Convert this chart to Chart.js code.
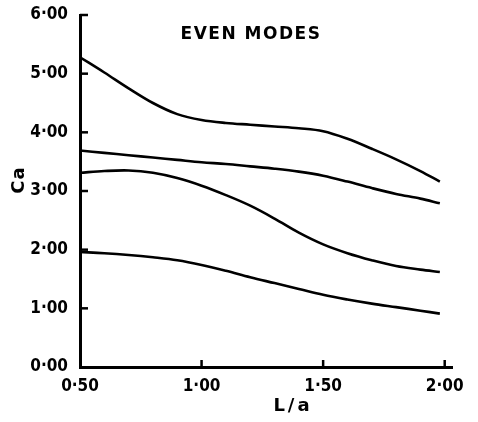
<!DOCTYPE html>
<html lang="en">
<head>
  <meta charset="UTF-8" />
  <title>Even Modes</title>
  <script src="https://cdn.jsdelivr.net/npm/chart.js"></script>
  <style>
    body { margin: 0; background: #fff; }
    #wrap { width: 478px; height: 422px; }
  </style>
</head>
<body>
  <div id="wrap"><canvas id="modes" width="478" height="422"></canvas></div>

  <script>
    // L/a sample positions and Ca values
    const La = [0.5, 0.6, 0.7, 0.8, 0.9, 1.0, 1.1, 1.2, 1.3, 1.4, 1.5, 1.6, 1.7, 1.8, 1.9, 1.98];
    const mode1 = [5.28, 5.02, 4.75, 4.50, 4.31, 4.21, 4.16, 4.13, 4.10, 4.07, 4.02, 3.89, 3.72, 3.54, 3.34, 3.16];
    const mode2 = [3.69, 3.65, 3.61, 3.57, 3.53, 3.49, 3.46, 3.42, 3.38, 3.33, 3.26, 3.16, 3.05, 2.95, 2.87, 2.79];
    const mode3 = [3.31, 3.34, 3.35, 3.31, 3.22, 3.09, 2.93, 2.75, 2.53, 2.29, 2.09, 1.94, 1.82, 1.72, 1.66, 1.62];
    const mode4 = [1.96, 1.94, 1.91, 1.87, 1.82, 1.74, 1.64, 1.53, 1.43, 1.33, 1.23, 1.15, 1.08, 1.02, 0.96, 0.91];
    const xTicks = [0.5, 1.0, 1.5, 2.0];
    const yTicks = [0, 1, 2, 3, 4, 5, 6];

    const tickFont = { family: '"DejaVu Sans Condensed", "DejaVu Sans", sans-serif', size: 17, weight: 'bold' };
    const fmt = v => v.toFixed(2).replace('.', '\u00b7');

    function series(ys) {
      return {
        data: La.map((x, i) => ({ x, y: ys[i] })),
        showLine: true,
        borderColor: '#000',
        borderWidth: 2.6,
        pointRadius: 0,
        tension: 0.35,
        fill: false
      };
    }

    // short tick marks pointing into the plot, plus the free-standing texts
    const extras = {
      id: 'extras',
      afterDraw(chart) {
        const { ctx, scales: { x, y } } = chart;
        ctx.save();
        ctx.strokeStyle = '#000';
        ctx.lineWidth = 2.5;
        yTicks.slice(1).forEach(v => {
          const py = y.getPixelForValue(v);
          ctx.beginPath();
          ctx.moveTo(x.left, py);
          ctx.lineTo(x.left + 8, py);
          ctx.stroke();
        });
        xTicks.slice(1).forEach(v => {
          const px = x.getPixelForValue(v);
          ctx.beginPath();
          ctx.moveTo(px, y.bottom);
          ctx.lineTo(px, y.bottom - 7);
          ctx.stroke();
        });

        ctx.fillStyle = '#000';
        ctx.textAlign = 'center';
        ctx.textBaseline = 'middle';
        ctx.font = 'bold 17px "DejaVu Sans", sans-serif';
        ctx.letterSpacing = '1.5px';
        ctx.fillText('EVEN MODES', 251, 35);

        ctx.font = 'bold 18px "DejaVu Sans", sans-serif';
        ctx.letterSpacing = '3px';
        ctx.fillText('L/a', 293, 406);

        ctx.letterSpacing = '1px';
        ctx.translate(19, 180);
        ctx.rotate(-Math.PI / 2);
        ctx.fillText('Ca', 0, 0);
        ctx.restore();
      }
    };

    new Chart(document.getElementById('modes').getContext('2d'), {
      type: 'scatter',
      data: { datasets: [series(mode1), series(mode2), series(mode3), series(mode4)] },
      options: {
        responsive: false,
        animation: false,
        layout: { padding: { top: 15, right: 26, left: 0, bottom: 0 } },
        plugins: { legend: { display: false }, tooltip: { enabled: false } },
        scales: {
          x: {
            type: 'linear',
            min: 0.5,
            max: 2.03,
            afterBuildTicks: s => { s.ticks = xTicks.map(v => ({ value: v })); },
            afterFit: s => { s.height = 55; },
            grid: { display: false },
            border: { display: true, color: '#000', width: 3 },
            ticks: { color: '#000', font: tickFont, padding: 1, maxRotation: 0, callback: v => fmt(v) }
          },
          y: {
            min: 0,
            max: 6,
            afterBuildTicks: s => { s.ticks = yTicks.map(v => ({ value: v })); },
            afterFit: s => { s.width = 80; },
            grid: { display: false },
            border: { display: true, color: '#000', width: 3 },
            ticks: { color: '#000', font: tickFont, padding: 4, callback: v => fmt(v) }
          }
        }
      },
      plugins: [extras]
    });
  </script>
</body>
</html>
